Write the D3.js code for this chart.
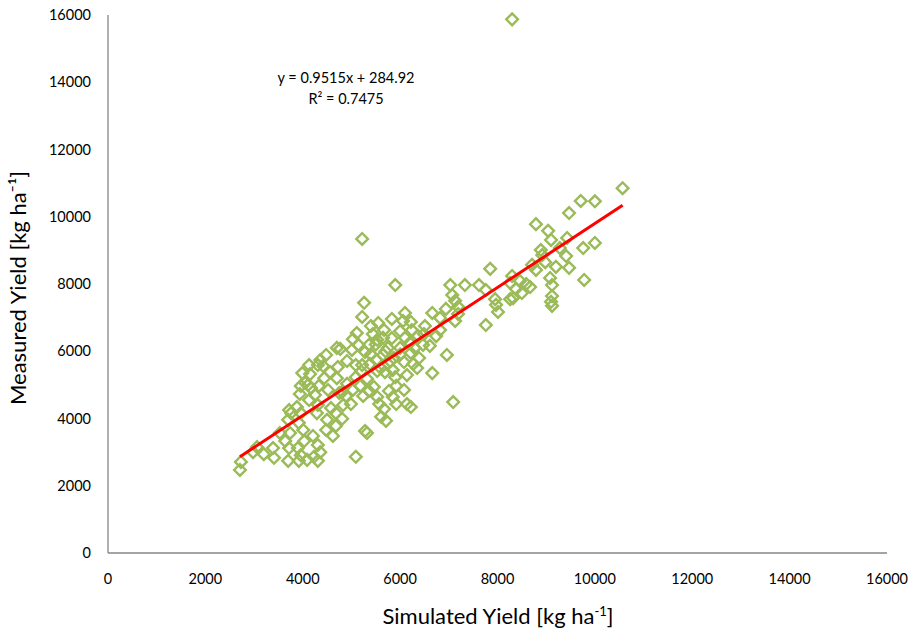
<!DOCTYPE html>
<html>
<head>
<meta charset="utf-8">
<script src="https://cdn.jsdelivr.net/npm/d3@7"></script>
<style>
  body { margin: 0; background: #fff; }
  svg { font-family: Lato, "Open Sans", sans-serif; }
</style>
</head>
<body>
<svg id="chart" width="918" height="629"></svg>
<script>
// simulated yield (x) and measured yield (y), kg/ha
const simulated = [8300, 5220, 10570, 9710, 10000, 9470, 8790, 9040, 9100, 10000, 9430, 9280, 9760, 8890, 9410, 9470, 9200, 9780, 8980, 8710,
  8790, 8920, 9120, 9120, 9100, 9120, 9080, 7850, 8300, 8460, 8260, 8590, 8670, 8380, 8500, 8320, 7950, 7760, 7970, 8010,
  7760, 8260, 7330, 7620, 7030, 7070, 7130, 7190, 6940, 7190, 7130, 6820, 6660, 6820, 6740, 6610, 6960, 6660, 7090, 5900,
  5260, 5220, 6100, 6060, 5830, 5550, 5400, 5670, 5440, 5110, 5030, 5140, 5280, 5010, 4770, 5530, 5830, 6000, 6240, 6370,
  6490, 6470, 6200, 6000, 6220, 5750, 5650, 5510, 5380, 5870, 6080, 5850, 5690, 5900, 5530, 5320, 5090, 4910, 5090, 4910,
  4720, 4560, 4700, 4440, 4310, 4130, 4150, 3990, 4050, 4170, 4330, 4520, 4750, 4890, 4990, 4830, 4580, 4310, 4130, 3940,
  3960, 3880, 3760, 3700, 3960, 3720, 4290, 4500, 3920, 4010, 3740, 3530, 3640, 3390, 3060, 2980, 3200, 3720, 3900, 3960,
  4030, 4210, 4310, 4360, 4230, 4090, 4310, 3920, 3700, 3410, 2730, 2710, 4480, 4620, 4680, 4810, 4680, 5090, 5280, 5320,
  5610, 5670, 5710, 5570, 5530, 5850, 5920, 6140, 6220, 5770, 5360, 5240, 5180, 5030, 5460, 5920, 6080, 6140, 6350, 6390,
  6270, 5360, 5220, 4480, 4360, 4420, 4810, 4700, 4110, 4250, 6510, 6220,
  5500, 5700, 5800, 5600, 6000, 5400, 6300, 5200, 5650, 6100];
const measured = [15870, 9340, 10850, 10470, 10460, 10110, 9780, 9580, 9310, 9220, 9370, 9070, 9070, 9010, 8830, 8480, 8510, 8120, 8650, 8570,
  8420, 8860, 7970, 7640, 7470, 7350, 8180, 8450, 8240, 8090, 8030, 8000, 7910, 7850, 7730, 7580, 7550, 7820, 7380, 7170,
  6780, 7550, 7970, 7970, 7970, 7670, 7500, 7320, 7260, 7110, 6900, 6990, 7140, 6630, 6450, 6160, 5890, 5350, 4490, 7970,
  7440, 7020, 7140, 6900, 6960, 6840, 6750, 6630, 6510, 6540, 6360, 6190, 5980, 6040, 6070, 6340, 6390, 6600, 6630, 6450,
  6510, 6190, 6250, 6100, 5950, 6100, 5890, 5740, 5620, 5800, 5680, 5440, 5380, 5230, 5410, 5180, 5230, 5030, 5590, 5710,
  5530, 5380, 5200, 5200, 5590, 5590, 5320, 5350, 5060, 4910, 4970, 4850, 4760, 4670, 4430, 4400, 4310, 4400, 4550, 4730,
  4970, 4340, 4160, 3960, 4160, 4250, 4160, 3960, 3870, 3660, 3570, 3570, 3330, 3120, 3150, 3000, 2940, 3120, 3120, 2910,
  3330, 3480, 3210, 3000, 2860, 2770, 2740, 2740, 2740, 2830, 2710, 2470, 3660, 3480, 3780, 3990, 4160, 2860, 3630, 3570,
  4050, 4280, 3930, 4430, 4640, 4640, 4430, 4430, 4340, 4820, 4820, 4670, 4970, 4850, 4940, 4970, 4850, 5290, 5500, 5800,
  5620, 6190, 5590, 5890, 5740, 5560, 4790, 6100, 5000, 4700, 6750, 6870,
  6200, 6000, 5700, 5500, 5900, 5900, 6100, 5400, 6400, 6400];

// linear fit shown on the chart
const slope = 0.9515;
const intercept = 284.92;
const eqLines = ["y = 0.9515x + 284.92", "R² = 0.7475"];

const xTicks = d3.range(0, 16001, 2000);
const yTicks = d3.range(0, 16001, 2000);

const svg = d3.select("#chart");

const x = d3.scaleLinear().domain([0, 16000]).range([108, 887]);
const y = d3.scaleLinear().domain([0, 16000]).range([553, 15]);

const axisColor = "#868686";

// axes lines
svg.append("line")
  .attr("x1", x(0)).attr("x2", x(16000))
  .attr("y1", y(0)).attr("y2", y(0))
  .attr("stroke", axisColor).attr("stroke-width", 1.3);
svg.append("line")
  .attr("x1", x(0)).attr("x2", x(0))
  .attr("y1", y(0)).attr("y2", y(16000))
  .attr("stroke", axisColor).attr("stroke-width", 1.3);

// tick labels
svg.append("g").selectAll("text")
  .data(xTicks)
  .join("text")
  .attr("x", (d) => x(d))
  .attr("y", 584)
  .attr("text-anchor", "middle")
  .attr("font-size", 14.5)
  .attr("fill", "#000")
  .text((d) => d);

svg.append("g").selectAll("text")
  .data(yTicks)
  .join("text")
  .attr("x", 91)
  .attr("y", (d) => y(d) + 5)
  .attr("text-anchor", "end")
  .attr("font-size", 14.5)
  .attr("fill", "#000")
  .text((d) => d);

// axis titles
const xTitle = svg.append("text")
  .attr("x", 498).attr("y", 624)
  .attr("text-anchor", "middle")
  .attr("font-size", 22)
  .text("Simulated Yield [kg ha");
xTitle.append("tspan").attr("dy", -8).attr("font-size", 13).text("-1");
xTitle.append("tspan").attr("dy", 8).text("]");

const yTitle = svg.append("text")
  .attr("transform", "translate(26,288) rotate(-90)")
  .attr("text-anchor", "middle")
  .attr("font-size", 22)
  .text("Measured Yield [kg ha");
yTitle.append("tspan").text("⁻¹");
yTitle.append("tspan").text("]");

// points
const pts = simulated.map((s, i) => ({ sim: s, meas: measured[i] }));
const diamond = d3.symbol().type(d3.symbolSquare).size(68);

svg.append("g").selectAll("path")
  .data(pts)
  .join("path")
  .attr("d", diamond)
  .attr("transform", (d) => `translate(${x(d.sim)},${y(d.meas)}) rotate(45)`)
  .attr("fill", "none")
  .attr("stroke", "#9BBB59")
  .attr("stroke-width", 2.4);

// trendline over the x range of the data
const [xmin, xmax] = d3.extent(simulated);
svg.append("line")
  .attr("x1", x(xmin)).attr("y1", y(slope * xmin + intercept))
  .attr("x2", x(xmax)).attr("y2", y(slope * xmax + intercept))
  .attr("stroke", "#FF0000")
  .attr("stroke-width", 3);

// equation
svg.append("g").selectAll("text")
  .data(eqLines)
  .join("text")
  .attr("x", 346)
  .attr("y", (d, i) => 83 + i * 21)
  .attr("text-anchor", "middle")
  .attr("font-size", 14.5)
  .text((d) => d);
</script>
</body>
</html>
